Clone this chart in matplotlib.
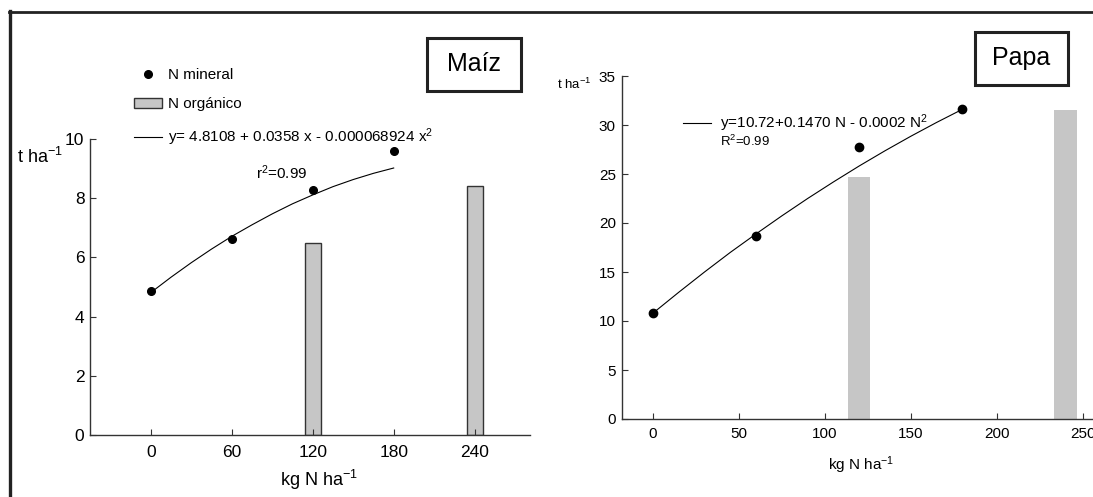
import matplotlib
matplotlib.use("Agg")
import matplotlib.pyplot as plt
from matplotlib.lines import Line2D
from matplotlib.patches import Patch, Rectangle

plt.rcParams["font.family"] = ["Liberation Sans", "DejaVu Sans"]
plt.rcParams["mathtext.fontset"] = "custom"
plt.rcParams["mathtext.rm"] = "Liberation Sans"
plt.rcParams["mathtext.it"] = "Liberation Sans:italic"

# ─── data ────────────────────────────────────────────────────────────
# Maíz
MAIZ_N_MIN      = [0, 60, 120, 180]
MAIZ_Y_MIN      = [4.86, 6.62, 8.28, 9.59]
MAIZ_N_ORG      = [120, 240]
MAIZ_Y_ORG      = [6.49, 8.41]
MAIZ_FIT_N      = [0, 15, 30, 45, 60, 75, 90, 105, 120, 135, 150, 165, 180]
MAIZ_FIT_Y      = [4.81, 5.33, 5.82, 6.28, 6.71, 7.10, 7.47, 7.81, 8.11,
                   8.39, 8.63, 8.84, 9.02]
MAIZ_XTICKS     = [0, 60, 120, 180, 240]
MAIZ_YTICKS     = [0, 2, 4, 6, 8, 10]

# Papa
PAPA_N_MIN      = [0, 60, 120, 180]
PAPA_Y_MIN      = [10.8, 18.7, 27.8, 31.6]
PAPA_N_ORG      = [120, 240]
PAPA_Y_ORG      = [24.7, 31.5]
PAPA_FIT_N      = [0, 15, 30, 45, 60, 75, 90, 105, 120, 135, 150, 165, 180]
PAPA_FIT_Y      = [10.8, 12.93, 15.0, 17.0, 18.89, 20.73, 22.5, 24.19,
                   25.82, 27.37, 28.85, 30.26, 31.6]
PAPA_XTICKS     = [0, 50, 100, 150, 200, 250]
PAPA_YTICKS     = [0, 5, 10, 15, 20, 25, 30, 35]

# ─── figure ──────────────────────────────────────────────────────────
W, H = 1093, 497
fig = plt.figure(figsize=(W / 100, H / 100), dpi=100)


def fx(x):
    return x / W


def fy(y):
    return 1 - y / H


BAR_COL  = "#c6c6c6"
AX_COL   = "#333333"


def style_axes(ax, fs, pad_y, pad_x):
    for s in ["top", "right"]:
        ax.spines[s].set_visible(False)
    for s in ["left", "bottom"]:
        ax.spines[s].set_color(AX_COL)
        ax.spines[s].set_linewidth(1.0)
    ax.tick_params(direction="in", length=4, width=0.8, color=AX_COL,
                   labelsize=fs)
    ax.tick_params(axis="y", pad=pad_y)
    ax.tick_params(axis="x", pad=pad_x)
    ax.patch.set_alpha(0)


# ─── Maíz ───────────────────────────────────────────────────────────
ax1 = fig.add_axes([fx(90), fy(435), fx(440), 296 / H])
ax1.bar(MAIZ_N_ORG, MAIZ_Y_ORG, width=12, color=BAR_COL,
        edgecolor=AX_COL, linewidth=1.0)
ax1.plot(MAIZ_FIT_N, MAIZ_FIT_Y, color="black", lw=0.8)
ax1.plot(MAIZ_N_MIN, MAIZ_Y_MIN, "o", color="black", ms=5.5, clip_on=False)
ax1.set_xlim(-45, 281)
ax1.set_ylim(0, 10)
ax1.set_xticks(MAIZ_XTICKS)
ax1.set_yticks(MAIZ_YTICKS)
style_axes(ax1, 12.5, 4, 7)

handles = [
    Line2D([], [], marker="o", ls="none", color="black", ms=5.5),
    Patch(facecolor=BAR_COL, edgecolor=AX_COL, linewidth=1.0),
    Line2D([], [], color="black", lw=0.8),
]
labels = ["N mineral", "N orgánico",
          "y= 4.8108 + 0.0358 x - 0.000068924 x$^{2}$"]
fig.legend(handles, labels, loc="upper left",
           bbox_to_anchor=(fx(134), fy(68)), bbox_transform=fig.transFigure,
           frameon=False, fontsize=11, borderpad=0, borderaxespad=0,
           handlelength=1.8, handletextpad=0.45, labelspacing=1.0,
           numpoints=1)
fig.text(fx(256), fy(173), "r$^{2}$=0.99", fontsize=11, va="center")

fig.text(fx(17), fy(157), "t ha$^{-1}$", fontsize=13, va="center")
fig.text(fx(319), fy(480), "kg N ha$^{-1}$", fontsize=13,
         ha="center", va="center")

fig.add_artist(Rectangle((fx(427), fy(91)), fx(94), 53 / H,
                         transform=fig.transFigure, fill=False,
                         edgecolor="#222222", linewidth=2.2))
fig.text(fx(474), fy(64), "Maíz", fontsize=18, ha="center", va="center")

# ─── Papa ───────────────────────────────────────────────────────────
ax2 = fig.add_axes([fx(622), fy(419), fx(471), 343 / H])
ax2.bar(PAPA_N_ORG, PAPA_Y_ORG, width=13, color=BAR_COL, linewidth=0)
ax2.plot(PAPA_FIT_N, PAPA_FIT_Y, color="black", lw=0.8)
ax2.plot(PAPA_N_MIN, PAPA_Y_MIN, "o", color="black", ms=6, clip_on=False)
ax2.set_xlim(-18, 256)
ax2.set_ylim(0, 35)
ax2.set_xticks(PAPA_XTICKS)
ax2.set_yticks(PAPA_YTICKS)
style_axes(ax2, 11, 4.5, 5.5)

fig.add_artist(Line2D([fx(683), fx(711)], [fy(123), fy(123)],
                      transform=fig.transFigure, color="black", lw=0.8))
fig.text(fx(720), fy(123), "y=10.72+0.1470 N - 0.0002 N$^{2}$",
         fontsize=11, va="center")
fig.text(fx(720), fy(141), "R$^{2}$=0.99", fontsize=9.5, va="center")

fig.text(fx(557), fy(84), "t ha$^{-1}$", fontsize=9.5, va="center")
fig.text(fx(861), fy(465), "kg N ha$^{-1}$", fontsize=11,
         ha="center", va="center")

fig.add_artist(Rectangle((fx(975), fy(85)), fx(93), 53 / H,
                         transform=fig.transFigure, fill=False,
                         edgecolor="#222222", linewidth=2.2))
fig.text(fx(1021), fy(58), "Papa", fontsize=18, ha="center", va="center")

# ─── outer frame ─────────────────────────────────────────────────────
fig.add_artist(Line2D([fx(9.5), fx(9.5)], [fy(11), 0],
                      transform=fig.transFigure, color="#222222", lw=2.4))
fig.add_artist(Line2D([fx(8.5), 1], [fy(11.5), fy(11.5)],
                      transform=fig.transFigure, color="#222222", lw=2.0))

fig.savefig("out.png", dpi=100)
